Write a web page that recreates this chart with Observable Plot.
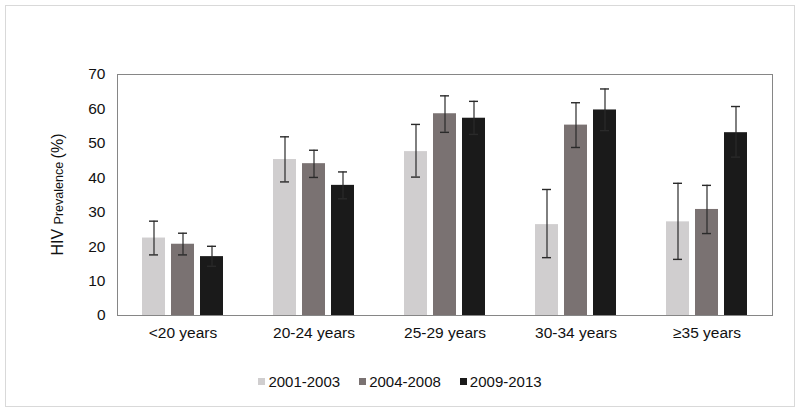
<!DOCTYPE html>
<html>
<head>
<meta charset="utf-8">
<script src="https://cdn.jsdelivr.net/npm/d3@7"></script>
<script src="https://cdn.jsdelivr.net/npm/@observablehq/plot@0.6"></script>
<style>
  html, body { margin: 0; padding: 0; background: #fff; }
  body { position: relative; width: 800px; height: 413px; overflow: hidden; font-family: "Liberation Sans", Arial, sans-serif; }
  #border { position: absolute; left: 5px; top: 5px; width: 790px; height: 402px; box-sizing: border-box; border: 1px solid #d9d9d9; pointer-events: none; }
  #legend { height: 32px; display: flex; justify-content: center; align-items: center; gap: 19px; font-size: 15px; color: #111; }
  #legend .item { display: flex; align-items: center; }
  #legend .sw { width: 7px; height: 7px; margin-right: 3px; }
  svg { display: block; }
</style>
</head>
<body>
<div id="chart"></div>
<div id="legend"></div>
<div id="border"></div>
<script>
const categories = ["<20 years", "20-24 years", "25-29 years", "30-34 years", "\u226535 years"];
const periods = ["2001-2003", "2004-2008", "2009-2013"];
const colors = ["#d0cecf", "#7a7272", "#1a1a1a"];

const prevalence2001 = [22.5, 45.3, 47.6, 26.4, 27.2];
const lower2001      = [17.6, 38.8, 40.2, 16.8, 16.3];
const upper2001      = [27.4, 51.9, 55.5, 36.6, 38.4];

const prevalence2004 = [20.7, 44.1, 58.6, 55.3, 30.8];
const lower2004      = [17.6, 40.1, 53.2, 48.8, 23.8];
const upper2004      = [23.9, 48.0, 63.8, 61.8, 37.8];

const prevalence2009 = [17.1, 37.8, 57.3, 59.7, 53.1];
const lower2009      = [14.3, 33.9, 52.6, 53.7, 46.0];
const upper2009      = [20.1, 41.7, 62.2, 65.8, 60.7];

const yTicks = [0, 10, 20, 30, 40, 50, 60, 70];

const series = [
  [prevalence2001, lower2001, upper2001],
  [prevalence2004, lower2004, upper2004],
  [prevalence2009, lower2009, upper2009]
];
const data = [];
categories.forEach((c, i) => {
  periods.forEach((p, j) => {
    data.push({category: c, period: p, value: series[j][0][i], lower: series[j][1][i], upper: series[j][2][i]});
  });
});

const chart = Plot.plot({
  width: 800,
  height: 365,
  marginLeft: 117,
  marginRight: 28,
  marginTop: 74,
  marginBottom: 50,
  style: {fontFamily: "'Liberation Sans', Arial, sans-serif", fontSize: "15.5px", color: "#111", background: "transparent"},
  fx: {domain: categories, paddingInner: 0.336, paddingOuter: 0.168, label: null, tickSize: 0, tickPadding: 11},
  x: {domain: periods, axis: null, paddingInner: 0.2, paddingOuter: 0.1},
  y: {domain: [0, 70], ticks: yTicks, tickSize: 0, tickPadding: 34, label: null},
  color: {domain: periods, range: colors},
  marks: [
    Plot.barY(data, {fx: "category", x: "period", y: "value", fill: "period"}),
    Plot.ruleX(data, {fx: "category", x: "period", y1: "lower", y2: "upper", stroke: "#2a2a2a", strokeWidth: 1.2}),
    Plot.tickY(data, {fx: "category", x: "period", y: "lower", stroke: "#2a2a2a", strokeWidth: 1.4, insetLeft: 7, insetRight: 7}),
    Plot.tickY(data, {fx: "category", x: "period", y: "upper", stroke: "#2a2a2a", strokeWidth: 1.4, insetLeft: 7, insetRight: 7})
  ]
});
document.getElementById("chart").appendChild(chart);

// Plot-area frame from the plot's own y scale and margins
const svg = d3.select(chart);
const ys = chart.scale("y");
const yTop = ys.apply(70), yBot = ys.apply(0);
svg.append("rect")
  .attr("x", 117.5).attr("y", Math.round(yTop) + 0.5)
  .attr("width", 800 - 117 - 28).attr("height", Math.round(yBot - yTop))
  .attr("fill", "none").attr("stroke", "#868686").attr("stroke-width", 1);

// Y-axis title with mixed sizes
const lab = svg.append("text")
  .attr("transform", `translate(63,${(yTop + yBot) / 2}) rotate(-90)`)
  .attr("text-anchor", "middle")
  .attr("fill", "#111")
  .style("font-family", "'Liberation Sans', Arial, sans-serif");
lab.append("tspan").attr("font-size", 16).text("HIV ");
lab.append("tspan").attr("font-size", 12.5).text("Prevalence ");
lab.append("tspan").attr("font-size", 16).text("(%)");

// Legend
const legend = d3.select("#legend");
periods.forEach((p, j) => {
  const it = legend.append("div").attr("class", "item");
  it.append("div").attr("class", "sw").style("background", colors[j]);
  it.append("span").text(p);
});
</script>
</body>
</html>
